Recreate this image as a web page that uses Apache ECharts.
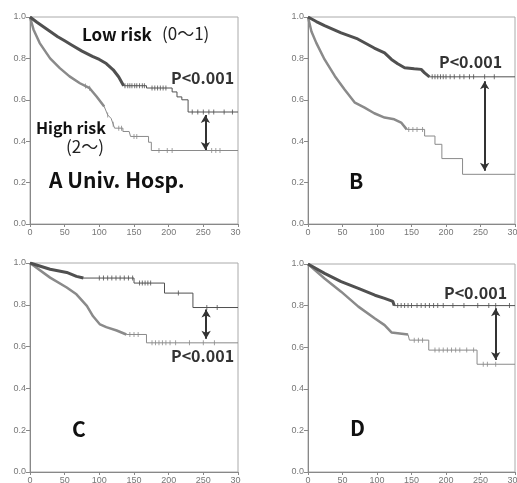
<!DOCTYPE html>
<html><head><meta charset="utf-8">
<script src="https://cdn.jsdelivr.net/npm/echarts@6/dist/echarts.min.js"></script>
<style>html,body{margin:0;padding:0;background:#fff}#c{width:517px;height:483px}</style>
</head><body><div id="c"></div>
<script>
// ---- axis ticks ----
const xTickLabels = ['0','50','100','150','200','250','300'];
const yTickLabels = ['0.0','0.2','0.4','0.6','0.8','1.0'];

// ---- panel A ----
const lowA = [[0,1],[10,0.975],[25,0.94],[40,0.905],[50,0.885],[60,0.865],[75,0.835],[90,0.81],[100,0.795],[110,0.775],[120,0.745],[128,0.71],[135,0.668],[168,0.668],[168,0.657],[205,0.657],[205,0.638],[212,0.638],[212,0.614],[219,0.614],[219,0.6],[228,0.6],[228,0.541],[300,0.541]];
const highA = [[0,1],[5,0.94],[14,0.874],[29,0.8],[43,0.753],[57,0.713],[72,0.68],[86,0.656],[96,0.616],[107,0.568],[112,0.527],[117,0.51],[122,0.463],[134,0.463],[134,0.447],[143,0.447],[145,0.423],[171,0.423],[171,0.395],[175,0.395],[175,0.355],[300,0.355]];
const lowACens = [137,141,144,147,151,154,158,162,165,176,180,184,188,192,196,234,242,250,258,265,280,292];
const highACens = [80,86,112,120,128,132,150,154,186,198,205,262,268,274];

// ---- panel B ----
const lowB = [[0,1],[12,0.978],[24,0.958],[48,0.923],[72,0.894],[96,0.85],[111,0.827],[121,0.795],[130,0.774],[140,0.755],[154,0.75],[164,0.747],[169,0.73],[176,0.711],[300,0.711]];
const highB = [[0,1],[5,0.93],[12,0.875],[24,0.795],[39,0.714],[53,0.65],[68,0.586],[82,0.562],[96,0.535],[111,0.514],[125,0.506],[135,0.49],[143,0.457],[169,0.457],[169,0.425],[184,0.425],[184,0.385],[194,0.385],[194,0.316],[224,0.316],[224,0.24],[300,0.24]];
const lowBCens = [180,184,188,192,196,200,206,212,220,226,234,240,256,270];
const highBCens = [146,152,158,166];

// ---- panel C ----
const lowC = [[0,1],[29,0.97],[53,0.955],[67,0.936],[77,0.928],[150,0.928],[150,0.904],[194,0.904],[194,0.856],[235,0.856],[235,0.787],[300,0.787]];
const highC = [[0,1],[29,0.93],[53,0.883],[67,0.85],[82,0.795],[91,0.745],[101,0.706],[110,0.693],[125,0.677],[139,0.658],[168,0.658],[168,0.618],[300,0.618]];
const lowCCens = [100,106,112,118,124,130,136,142,148,158,162,166,170,174,214,255,270];
const highCCens = [144,150,156,176,181,186,191,196,202,210,230,250,266];

// ---- panel D ----
const lowD = [[0,1],[24,0.955],[48,0.915],[73,0.883],[97,0.85],[111,0.835],[123,0.82],[125,0.8],[300,0.8]];
const highD = [[0,1],[24,0.93],[48,0.867],[73,0.795],[97,0.738],[111,0.706],[121,0.671],[145,0.661],[147,0.634],[175,0.634],[175,0.586],[245,0.586],[245,0.518],[300,0.518]];
const lowDCens = [130,135,140,145,150,158,164,170,176,182,188,196,210,226,246,262,272,292];
const highDCens = [154,160,166,184,190,196,202,208,214,220,230,240,254,260,272];

const panels = [
  {name:'A Univ. Hosp.', low:lowA, high:highA, lowC:lowACens, highC:highACens, lowDense:135, highDense:110,
   grid:{left:30,top:17,width:208,height:207}, arrow:[253,0.527,0.358]},
  {name:'B', low:lowB, high:highB, lowC:lowBCens, highC:highBCens, lowDense:176, highDense:143,
   grid:{left:308,top:17,width:207,height:207}, arrow:[256,0.69,0.257]},
  {name:'C', low:lowC, high:highC, lowC:lowCCens, highC:highCCens, lowDense:120, highDense:140,
   grid:{left:30,top:263,width:208,height:209}, arrow:[254,0.778,0.637]},
  {name:'D', low:lowD, high:highD, lowC:lowDCens, highC:highDCens, lowDense:125, highDense:145,
   grid:{left:308,top:264,width:207,height:208}, arrow:[272,0.787,0.538]}
];

function valueAt(curve, t){
  for(let i=curve.length-1;i>=0;i--){ if(curve[i][0]<=t){
    const a=curve[i], b=curve[i+1];
    if(!b || b[0]===a[0]) return a[1];
    return a[1]+(b[1]-a[1])*(t-a[0])/(b[0]-a[0]);
  }}
  return curve[0][1];
}

const lowColor='#505050', highColor='#8a8a8a';
const grids=[], xAxes=[], yAxes=[], series=[];
panels.forEach((p,i)=>{
  grids.push(Object.assign({show:true,borderColor:'#aaa',borderWidth:1,backgroundColor:'transparent',
    containLabel:false,outerBoundsMode:'none'},p.grid));
  xAxes.push({type:'value',gridIndex:i,min:0,max:300,interval:50,
    axisLine:{show:true,onZero:false,lineStyle:{color:'#888',width:1}},
    axisTick:{show:true,length:3,lineStyle:{color:'#888'}},
    axisLabel:{color:'#777',fontSize:9,fontFamily:'Liberation Sans',margin:4,hideOverlap:false,
      formatter:v=>xTickLabels[Math.round(v/50)]},
    splitLine:{show:false}});
  yAxes.push({type:'value',gridIndex:i,min:0,max:1,interval:0.2,
    axisLine:{show:true,onZero:false,lineStyle:{color:'#888',width:1}},
    axisTick:{show:true,length:4,lineStyle:{color:'#888'}},
    axisLabel:{color:'#777',fontSize:9,fontFamily:'Liberation Sans',margin:4,
      formatter:v=>yTickLabels[Math.round(v/0.2)]},
    splitLine:{show:false}});
  const mk=(data,color,w,z,extra)=>Object.assign({type:'line',xAxisIndex:i,yAxisIndex:i,data:data,
    showSymbol:false,symbol:'none',lineStyle:{color:color,width:w},itemStyle:{color:color},z:z,silent:true,animation:false},extra||{});
  series.push(mk(p.high,highColor,1,2,{markLine:{silent:true,symbol:['arrow','arrow'],symbolSize:[7,8],animation:false,
    lineStyle:{color:'#333',width:2,type:'solid'},label:{show:false},
    data:[[{coord:[p.arrow[0],p.arrow[1]]},{coord:[p.arrow[0],p.arrow[2]]}]]}}));
  series.push(mk(p.high.filter(d=>d[0]<=p.highDense),highColor,2.5,3));
  series.push(mk(p.low,lowColor,1,4));
  series.push(mk(p.low.filter(d=>d[0]<=p.lowDense),lowColor,3,5));
  series.push({type:'scatter',xAxisIndex:i,yAxisIndex:i,symbol:'rect',symbolSize:[1,5],silent:true,animation:false,
    itemStyle:{color:highColor},data:p.highC.map(t=>[t,valueAt(p.high,t)]),z:6});
  series.push({type:'scatter',xAxisIndex:i,yAxisIndex:i,symbol:'rect',symbolSize:[1,5],silent:true,animation:false,
    itemStyle:{color:lowColor},data:p.lowC.map(t=>[t,valueAt(p.low,t)]),z:7});
});

const F='"Noto Sans CJK JP", "Noto Sans", sans-serif';
const txt=(s,x,y,size,weight,color)=>({type:'text',left:x,top:y,silent:true,z:100,
  style:{text:s,font:(weight||'bold')+' '+size+'px '+F,fill:color||'#111'}});
const graphic=[
  txt('Low risk',82,26,17),
  txt('(0〜1)',162,25,17,'normal','#222'),
  txt('P<0.001',171,70,16,'bold','#333'),
  txt('High risk',36,120,16),
  txt('(2〜)',66,138,17,'normal','#222'),
  txt('A Univ. Hosp.',49,170,21),
  txt('P<0.001',439,54,16,'bold','#333'),
  txt('B',349,171,21),
  txt('P<0.001',171,348,16,'bold','#333'),
  txt('C',72,419,21),
  txt('P<0.001',444,285,16,'bold','#333'),
  txt('D',350,418,21),
  {type:'rect',left:241,top:226,shape:{width:16,height:14},style:{fill:'#fff'},z:200,silent:true},
  {type:'rect',left:241,top:474,shape:{width:16,height:9},style:{fill:'#fff'},z:200,silent:true}
];

const chart=echarts.init(document.getElementById('c'),null,{renderer:'canvas'});
chart.setOption({animation:false,backgroundColor:'#fff',grid:grids,xAxis:xAxes,yAxis:yAxes,series:series,graphic:graphic});
</script></body></html>
